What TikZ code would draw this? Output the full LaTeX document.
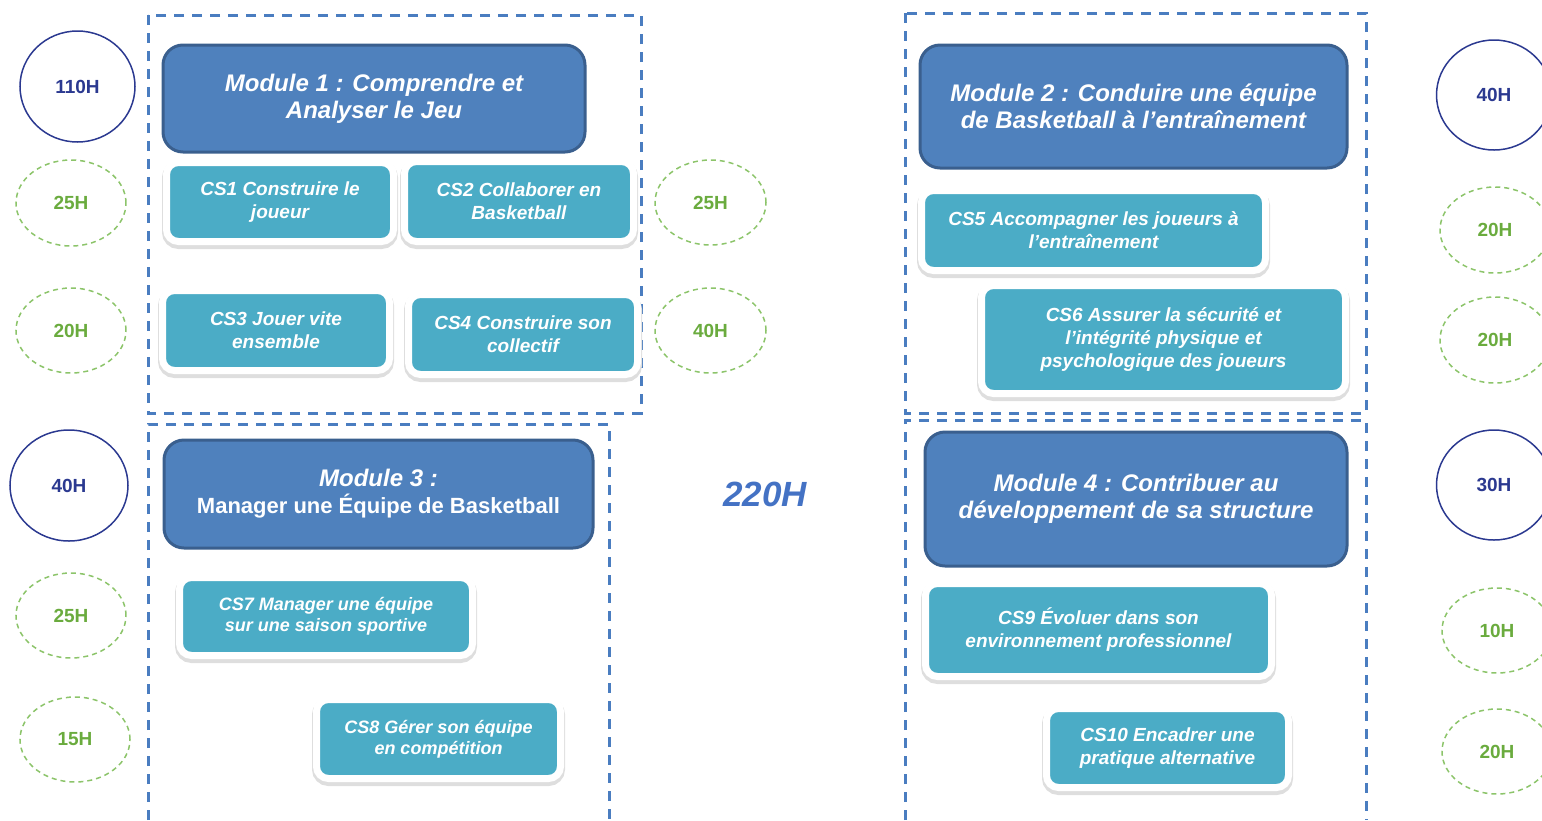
\documentclass[tikz,border=0pt]{standalone}
\usepackage{fontspec}
\setmainfont{Liberation Sans}
\usetikzlibrary{shapes.geometric}

\definecolor{modfill}{HTML}{4F81BD}
\definecolor{moddraw}{HTML}{3A5F8E}
\definecolor{skillfill}{HTML}{4BACC6}
\definecolor{framecol}{HTML}{4A7DC0}
\definecolor{navy}{HTML}{2B3990}
\definecolor{grass}{HTML}{8CC46A}
\definecolor{grasstext}{HTML}{6AAB3E}
\definecolor{bigtotal}{HTML}{4472C4}

\tikzset{
  module/.style={draw=moddraw, line width=3pt, fill=modfill, rounded corners=20pt,
    text=white, align=center, inner sep=0pt,
    font=\fontsize{24}{27}\selectfont\bfseries\itshape},
  skill/.style={draw=white, line width=7pt, fill=skillfill, rounded corners=12pt,
    text=white, align=center, inner sep=0pt,
    preaction={draw=black!13, fill=black!13, line width=9pt,
      transform canvas={yshift=-3pt}},
    font=\fontsize{19}{23}\selectfont\bfseries\itshape},
  total/.style={ellipse, draw=navy, line width=1.5pt, inner sep=0pt,
    text=navy, font=\fontsize{19}{21}\selectfont\bfseries},
  part/.style={ellipse, draw=grass, line width=1.5pt, dash pattern=on 5pt off 4pt,
    inner sep=0pt, text=grasstext, font=\fontsize{19}{21}\selectfont\bfseries},
  frame/.style={draw=framecol, line width=3pt, dash pattern=on 10pt off 8pt}
}

\begin{document}
\begin{tikzpicture}[x=1pt, y=-1pt]
    \useasboundingbox (0,0) rectangle (1542,820);
    \clip (0,0) rectangle (1542,820);

    % dashed frames
    \draw [frame] (148,15) rectangle (641,413);
    \draw [frame] (905,13) rectangle (1366,413);
    \draw [frame] (148,820) -- (148,424) -- (609,424) -- (609,820);
    \draw [frame] (905,820) -- (905,420) -- (1366,420) -- (1366,820);

    % modules
    \node (m1) at (374,98.5) [module, minimum width=422pt, minimum height=107pt]
        {Module 1 : Comprendre et\\Analyser le Jeu};
    \node (m2) at (1133.5,106.5) [module, minimum width=427pt, minimum height=123pt]
        {Module 2 : Conduire une équipe\\de Basketball à l’entraînement};
    \node (m3) at (378.5,494) [module, minimum width=429pt, minimum height=108pt]
        {Module 3 :\\{\fontsize{22}{27}\selectfont\upshape Manager une Équipe de Basketball}};
    \node (m4) at (1136,499) [module, minimum width=422pt, minimum height=134pt]
        {Module 4 : Contribuer au\\développement de sa structure};

    % skills
    \node (cs1) at (280,202) [skill, minimum width=227pt, minimum height=79pt]
        {CS1 Construire le\\joueur};
    \node (cs2) at (519,201.5) [skill, minimum width=229pt, minimum height=80pt]
        {CS2 Collaborer en\\Basketball};
    \node (cs3) at (276,330.5) [skill, minimum width=227pt, minimum height=80pt]
        {CS3 Jouer vite\\ensemble};
    \node (cs4) at (523,334.5) [skill, minimum width=229pt, minimum height=80pt]
        {CS4 Construire son\\collectif};
    \node (cs5) at (1093.5,230.5) [skill, minimum width=344pt, minimum height=80pt]
        {CS5 Accompagner les joueurs à\\l’entraînement};
    \node (cs6) at (1163.5,339.5) [skill, minimum width=364pt, minimum height=108pt]
        {CS6 Assurer la sécurité et\\l’intégrité physique et\\psychologique des joueurs};
    \node (cs7) at (326,616.5) [skill, minimum width=293pt, minimum height=78pt,
        font=\fontsize{18}{21}\selectfont\bfseries\itshape]
        {CS7 Manager une équipe\\sur une saison sportive};
    \node (cs8) at (438.5,739) [skill, minimum width=244pt, minimum height=79pt,
        font=\fontsize{18}{21}\selectfont\bfseries\itshape]
        {CS8 Gérer son équipe\\en compétition};
    \node (cs9) at (1098.5,630) [skill, minimum width=346pt, minimum height=93pt]
        {CS9 Évoluer dans son\\environnement professionnel};
    \node (cs10) at (1167.5,748) [skill, minimum width=242pt, minimum height=79pt]
        {CS10 Encadrer une\\pratique alternative};

    % hours
    \node (h1) at (77.5,86.5) [total, minimum width=115pt, minimum height=111pt] {110H};
    \node (hcs1) at (71,203) [part, minimum width=110pt, minimum height=86pt] {25H};
    \node (hcs3) at (71,330.5) [part, minimum width=110pt, minimum height=85pt] {20H};
    \node (hcs2) at (710.5,202.5) [part, minimum width=111pt, minimum height=85pt] {25H};
    \node (hcs4) at (710.5,330.5) [part, minimum width=111pt, minimum height=85pt] {40H};
    \node (h2) at (1494,95) [total, minimum width=115pt, minimum height=110pt] {40H};
    \node (hcs5) at (1495,230) [part, minimum width=110pt, minimum height=86pt] {20H};
    \node (hcs6) at (1495,340) [part, minimum width=110pt, minimum height=86pt] {20H};
    \node (h3) at (69,485.5) [total, minimum width=118pt, minimum height=111pt] {40H};
    \node (hcs7) at (71,615.5) [part, minimum width=110pt, minimum height=85pt] {25H};
    \node (hcs8) at (75,739.5) [part, minimum width=110pt, minimum height=85pt] {15H};
    \node (h4) at (1494,485) [total, minimum width=115pt, minimum height=110pt] {30H};
    \node (hcs9) at (1497,630.5) [part, minimum width=110pt, minimum height=85pt] {10H};
    \node (hcs10) at (1497,751.5) [part, minimum width=110pt, minimum height=85pt] {20H};

    \node (total) at (765,494) [text=bigtotal, font=\fontsize{35}{40}\selectfont\bfseries\itshape] {220H};
\end{tikzpicture}
\end{document}
